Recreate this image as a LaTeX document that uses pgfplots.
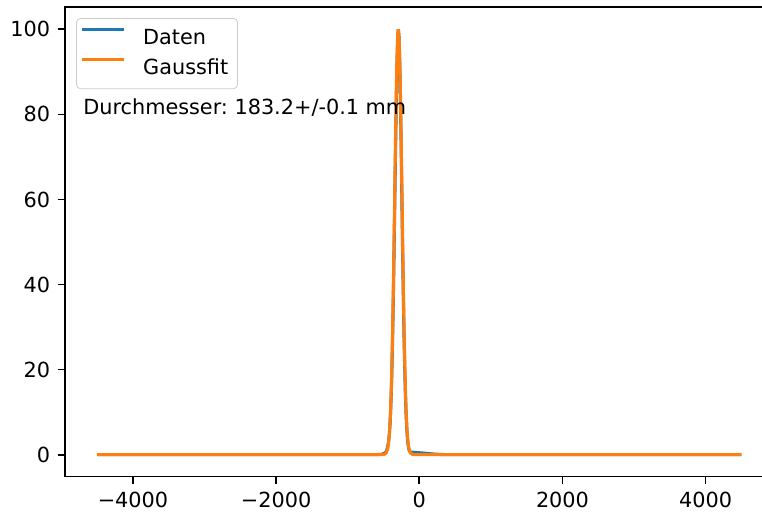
\documentclass[border=0pt]{standalone}
\usepackage{fontspec}
\setmainfont{DejaVu Sans}
\usepackage{pgfplots}
\pgfplotsset{compat=1.18}
\definecolor{mplblue}{HTML}{1F77B4}
\definecolor{mplorange}{HTML}{FF7F0E}
\frenchspacing

% gemessenes Profil
\pgfplotstableread{
x y
-4500 0
-2000 0
-1000 0
-600 0
-520 0.1
-480 0.4
-460 0.8
-445 1.6
-430 3.0
-420 4.6
-410 7.0
-400 10.5
-390 15.5
-380 22
-370 30
-360 40
-350 51
-340 62.5
-330 74
-320 84.5
-310 93
-300 98.5
-293 100
-285 98.5
-275 93
-265 84.5
-255 74
-245 62
-235 50
-225 39
-215 29
-205 21
-195 14.5
-185 9.5
-175 6
-165 3.6
-155 2.1
-145 1.2
-135 0.8
-120 0.6
-80 0.55
0 0.45
100 0.3
200 0.15
300 0.05
400 0
2000 0
4500 0
}\daten

% Gaussfit
\pgfplotstableread{
x y
-4500 0
-2000 0
-543 0
-493 0.05
-463 0.39
-443 1.32
-433 2.31
-423 3.88
-413 6.28
-403 9.77
-393 14.6
-383 21.1
-373 29.2
-363 39.0
-353 50.0
-343 61.8
-333 73.5
-323 84.1
-313 92.6
-303 98.1
-293 100
-283 98.1
-273 92.6
-263 84.1
-253 73.5
-243 61.8
-233 50.0
-223 39.0
-213 29.2
-203 21.1
-193 14.6
-183 9.77
-173 6.28
-163 3.88
-153 2.31
-143 1.32
-123 0.39
-93 0.05
-43 0
2000 0
4500 0
}\fit

\begin{document}
\begin{tikzpicture}
\begin{axis}[
  name=ax, scale only axis,
  width=340.7pt, height=225.8pt,
  xmin=-4950, xmax=4950, ymin=-5.17, ymax=105.24,
  xtick={-4000,-2000,0,2000,4000},
  xticklabels={−4000,−2000,0,2000,4000},
  ytick={0,20,40,60,80,100},
  /pgf/number format/assume math mode=true,
  tick align=outside, major tick length=3.5pt,
  tick style={line width=0.8pt, black},
  axis line style={line width=0.8pt},
  xtick pos=bottom, ytick pos=left,
  tick label style={font=\fontsize{10}{12}\selectfont},
  xticklabel style={inner sep=0pt, yshift=-3.5pt},
  yticklabel style={inner sep=0pt, xshift=-3.5pt},
  legend cell align=left,
  legend image code/.code={
    \draw[#1,overlay] (-1.65pt,0.35em+1pt) -- (18.35pt,0.35em+1pt);
    \path[draw=none,fill=none] (0pt,0.35em-0.75pt) rectangle (18.35pt,0.35em+0.75pt);},
  legend style={at={(0,1)}, anchor=north west, xshift=5.3pt, yshift=-5.3pt,
    draw=black!20, rounded corners=2pt, fill=white, fill opacity=0.8,
    text opacity=1, draw opacity=1, inner xsep=4.5pt, inner ysep=4.8pt,
    row sep=4.6pt, column sep=0pt,
    font=\fontsize{10}{12}\selectfont,
    nodes={inner sep=0pt, text height=7.8pt, text depth=2pt},
    /tikz/every odd column/.append style={column sep=9.25pt}},
]
\addplot[mplblue, line width=1.5pt] table {\daten};
\addlegendentry{Daten}
\addplot[mplorange, line width=1.5pt] table {\fit};
\addlegendentry{Gaussfit}
\node[anchor=base west, inner sep=0pt, font=\fontsize{10}{12}\selectfont]
  at (axis cs:-4700,80) {Durchmesser: 183.2+/-0.1 mm};
\end{axis}
\pgfresetboundingbox
\useasboundingbox ([xshift=-31.25pt,yshift=-18.9pt]ax.south west)
  rectangle ([xshift=335.1pt,yshift=3.37pt]ax.north west);
\end{tikzpicture}
\end{document}
